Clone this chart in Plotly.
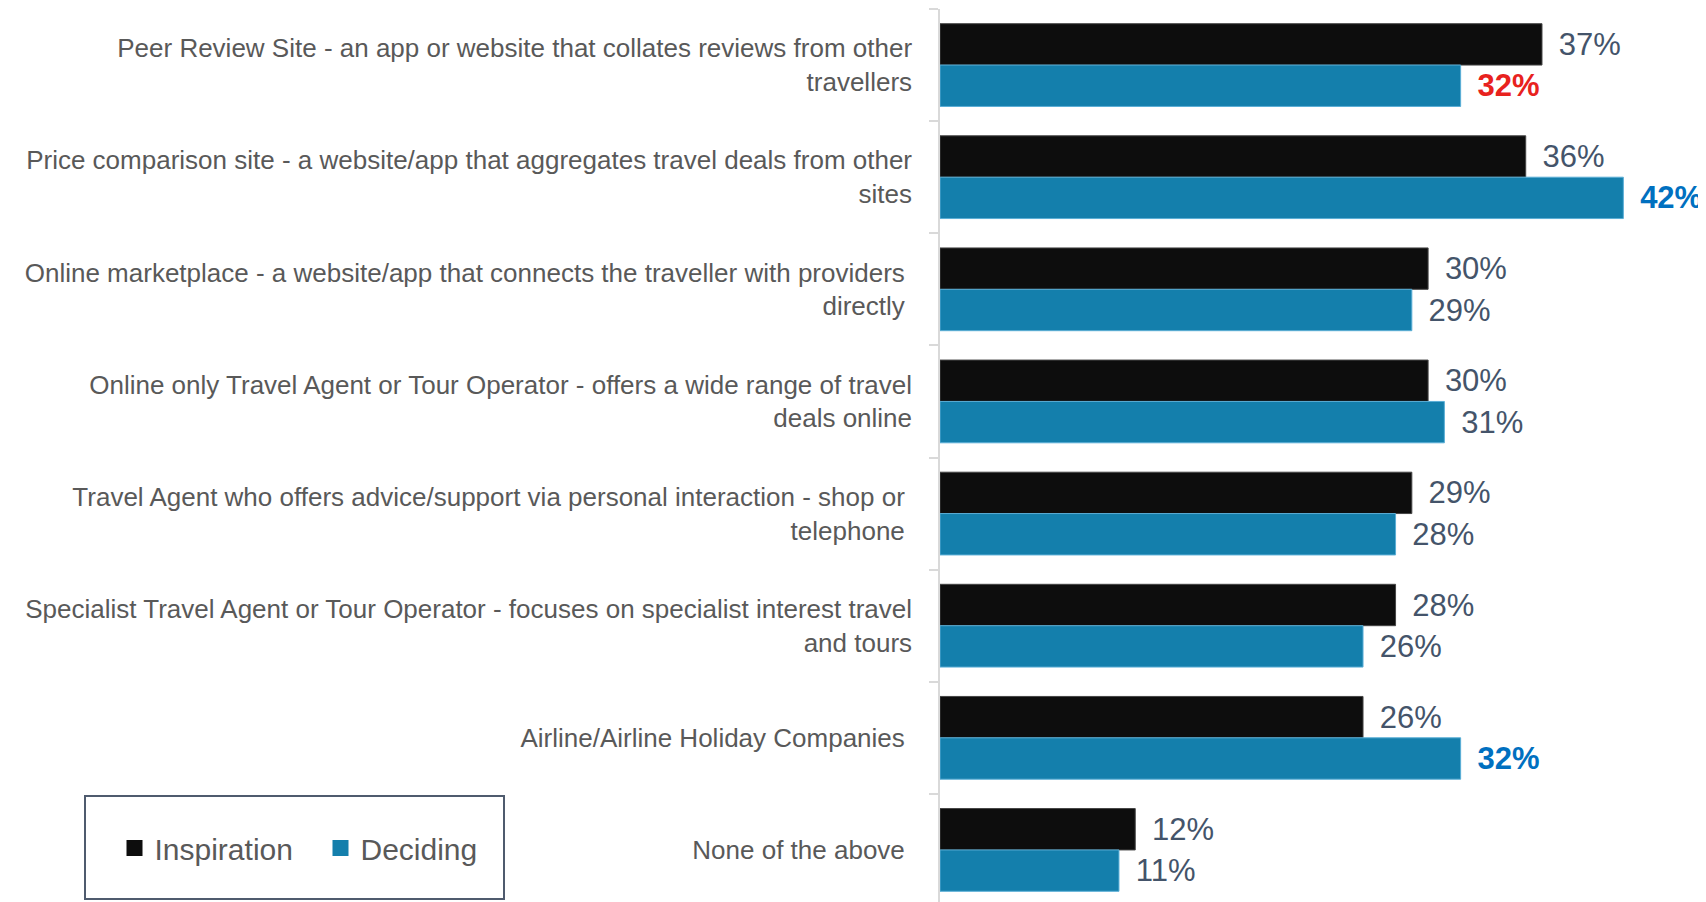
import plotly.graph_objects as go

categories = [
    "Peer Review Site - an app or website that collates reviews from other<br>travellers",
    "Price comparison site - a website/app that aggregates travel deals from other<br>sites",
    "Online marketplace - a website/app that connects the traveller with providers\u00a0<br>directly\u00a0",
    "Online only Travel Agent or Tour Operator - offers a wide range of travel<br>deals online",
    "Travel Agent who offers advice/support via personal interaction - shop or\u00a0<br>telephone\u00a0",
    "Specialist Travel Agent or Tour Operator - focuses on specialist interest travel<br>and tours",
    "Airline/Airline Holiday Companies\u00a0",
    "None of the above\u00a0",
]
inspiration = [37, 36, 30, 30, 29, 28, 26, 12]
deciding = [32, 42, 29, 31, 28, 26, 32, 11]

C_BLACK = "#0d0d0d"
C_BLUE = "#147fac"
LABEL_GREY = "#44546a"
SANS = "Liberation Sans, Arial, sans-serif"

dec_colors = [LABEL_GREY] * len(deciding)
dec_bold = [False] * len(deciding)
dec_colors[0] = "#e8221e"; dec_bold[0] = True
dec_colors[1] = "#0070c0"; dec_bold[1] = True
dec_colors[6] = "#0070c0"; dec_bold[6] = True

def fmt(v, bold=False):
    s = f"{v}%"
    return "\u00a0\u2006" + (f"<b>{s}</b>" if bold else s)

fig = go.Figure()
fig.add_trace(go.Bar(
    y=categories, x=inspiration, orientation="h", name="Inspiration",
    marker=dict(color=C_BLACK, line=dict(color="#454545", width=1)),
    text=[fmt(v) for v in inspiration], textposition="outside",
    textfont=dict(family=SANS, size=31, color=LABEL_GREY),
    cliponaxis=False, constraintext="none", showlegend=False,
))
fig.add_trace(go.Bar(
    y=categories, x=deciding, orientation="h", name="Deciding",
    marker=dict(color=C_BLUE, line=dict(color="#5aaed6", width=1)),
    text=[fmt(v, b) for v, b in zip(deciding, dec_bold)], textposition="outside",
    textfont=dict(family=SANS, size=31, color=dec_colors),
    cliponaxis=False, constraintext="none", showlegend=False,
))
# legend entries
for nm, col in [("Inspiration", C_BLACK), ("Deciding", C_BLUE)]:
    fig.add_trace(go.Scatter(
        x=[None], y=[None], mode="markers", name=nm,
        marker=dict(symbol="square", size=19, color=col),
    ))

OFF = 8  # page body margin
W, H = 1706 - OFF, 902 - OFF
ML, MR, MT, MB = 940 - OFF, 18, 9 - OFF, 0
pw = W - ML - MR
ph = H - MT - MB

def px_x(px):
    return (px - OFF - ML) / pw

def px_y(py):
    return (H - MB - (py - OFF)) / ph

fig.add_shape(type="rect", xref="paper", yref="paper",
              x0=px_x(85), x1=px_x(504), y0=px_y(899), y1=px_y(796),
              line=dict(color="#4f5b6e", width=2), fillcolor="rgba(0,0,0,0)")

fig.update_layout(
    width=W, height=H,
    margin=dict(l=ML, r=MR, t=MT, b=MB, pad=0, autoexpand=False),
    plot_bgcolor="white", paper_bgcolor="white",
    barmode="group", bargap=0.262, bargroupgap=0,
    showlegend=True,
    legend=dict(
        orientation="h", xref="container", yref="container",
        x=(114.5 - OFF) / W, xanchor="left", y=(H - (848 - OFF)) / H, yanchor="middle",
        font=dict(family=SANS, size=30, color="#595959"),
        bgcolor="rgba(0,0,0,0)", borderwidth=0,
        entrywidth=161, entrywidthmode="pixels", itemsizing="trace",
    ),
    xaxis=dict(range=[0, pw / 16.27], visible=False, showgrid=False, zeroline=False),
    yaxis=dict(
        type="category", autorange=False, range=[7.5 - 4 / 112.1, -0.5],
        showline=True, linecolor="#d9d9d9", linewidth=1.5,
        ticks="outside", ticklen=9, tickcolor="#d9d9d9", tickwidth=1.5,
        tickson="boundaries", ticklabelstandoff=21, automargin=False,
        tickfont=dict(family=SANS, size=26, color="#595959"),
        showgrid=False, zeroline=False,
    ),
)

fig.write_html("out.html")
